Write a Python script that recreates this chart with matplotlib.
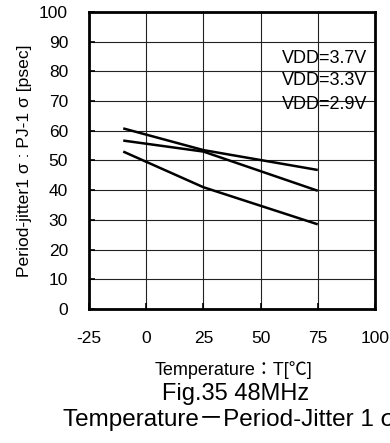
import matplotlib.pyplot as plt

# data
temps = [-10, 25, 75]
vdd_37 = [60.8, 53.5, 46.8]
vdd_33 = [56.7, 53.0, 39.8]
vdd_29 = [53.0, 41.0, 28.5]
labels = ['VDD=3.7V', 'VDD=3.3V', 'VDD=2.9V']
xticks = [-25, 0, 25, 50, 75, 100]
xticklabels = ['-25', '0', '25', '50', '75', '100']
yticks = [0, 10, 20, 30, 40, 50, 60, 70, 80, 90, 100]

plt.rcParams['font.family'] = ['Liberation Sans', 'Noto Sans CJK JP', 'DejaVu Sans']

fig = plt.figure(figsize=(3.9, 4.43), dpi=100)
ax = fig.add_axes([0.228, 0.3025, 0.7335, 0.6705])

for series in [vdd_37, vdd_33, vdd_29]:
    ax.plot(temps, series, color='black', linewidth=1.8, solid_capstyle='butt')

ax.set_xlim(-25, 100)
ax.set_ylim(0, 100)
ax.set_xticks(xticks)
ax.set_xticklabels(xticklabels)
ax.set_yticks(yticks)
ax.tick_params(direction='in', length=4, width=1.2, labelsize=12.5)
ax.tick_params(axis='x', pad=16)
ax.tick_params(axis='y', pad=15)
ax.grid(True, color='#222222', linewidth=0.8)
for sp in ax.spines.values():
    sp.set_linewidth(2)

for lab, yy in zip(labels, [84.5, 77, 69]):
    ax.text(96.8, yy, lab, ha='right', va='center', fontsize=13)

ax.set_ylabel('Period-jitter1 σ : PJ-1 σ [psec]', fontsize=12.6, labelpad=5)

fig.text(0.598, 0.165, 'Temperature：T[℃]', ha='center', va='center', fontsize=13)
fig.text(0.603, 0.111, 'Fig.35 48MHz', ha='center', va='center', fontsize=17)
fig.text(0.588, 0.052, 'Temperature－Period-Jitter 1 σ', ha='center', va='center', fontsize=17.5)

fig.savefig('out.png', dpi=100)
